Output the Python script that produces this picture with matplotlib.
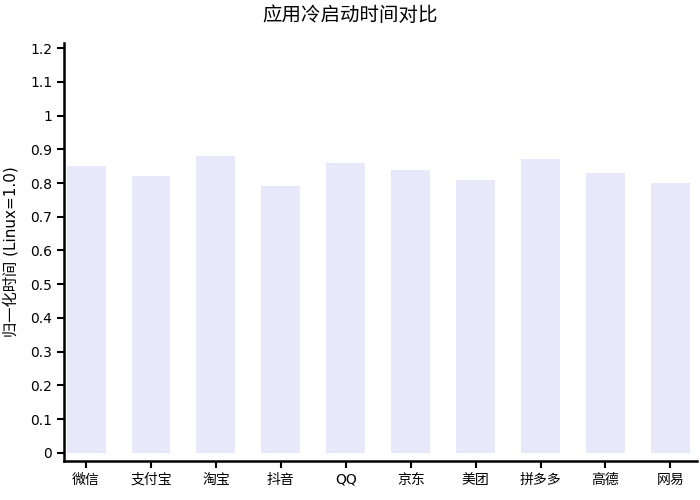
import matplotlib
matplotlib.use('Agg')
import matplotlib.pyplot as plt
from matplotlib.ticker import FuncFormatter, MultipleLocator

plt.rcParams['font.family'] = ['DejaVu Sans', 'Noto Sans CJK SC']

# 数据
apps = ['微信', '支付宝', '淘宝', '抖音', 'QQ', '京东', '美团', '拼多多', '高德', '网易']
norm_time = [0.85, 0.82, 0.88, 0.79, 0.86, 0.84, 0.81, 0.87, 0.83, 0.80]

fig = plt.figure(figsize=(7, 5), dpi=100)
ax = fig.add_axes([0.0914, 0.078, 0.9043, 0.836])

x = list(range(len(apps)))
ax.bar(x, norm_time, width=0.6, color='#e8e8fb')

ax.set_xlim(-0.34, 9.41)
ax.set_ylim(-0.024, 1.215)
ax.yaxis.set_major_locator(MultipleLocator(0.1))
ax.yaxis.set_major_formatter(FuncFormatter(lambda v, p: '%g' % round(v, 2)))
ax.set_xticks(x)
ax.set_xticklabels(apps)

for s in ['top', 'right']:
    ax.spines[s].set_visible(False)
for s in ['left', 'bottom']:
    ax.spines[s].set_linewidth(1.8)
    ax.spines[s].set_color('black')
ax.tick_params(direction='out', length=5, width=1.5, labelsize=10)

ax.set_ylabel('归一化时间 (Linux=1.0)', fontsize=11, labelpad=8)
fig.suptitle('应用冷启动时间对比', fontsize=14, y=0.988)

fig.savefig('out.png', dpi=100)
